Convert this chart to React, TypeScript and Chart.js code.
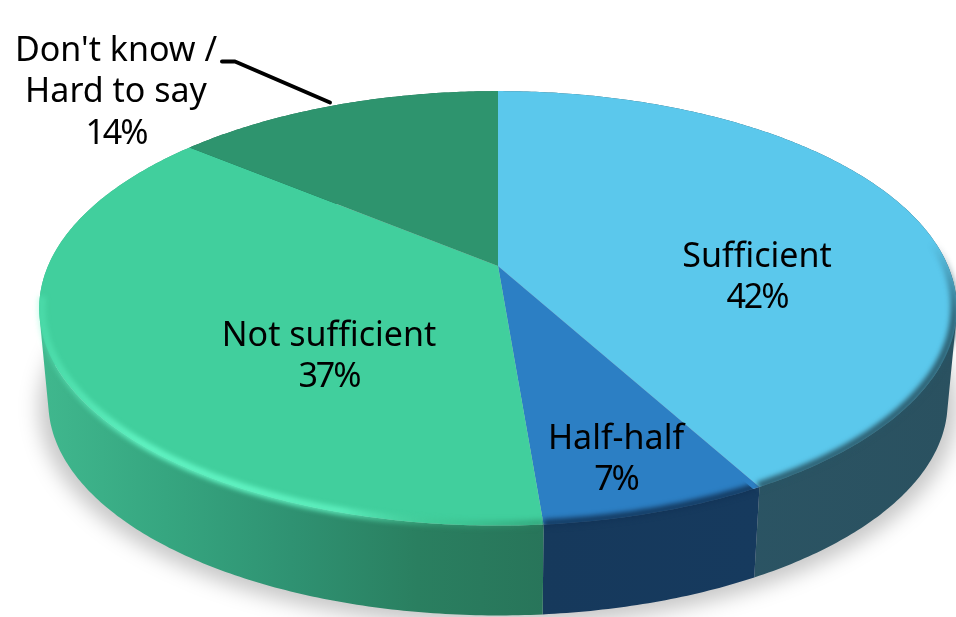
import React, { useEffect, useRef } from "react";
import { Chart, registerables } from "chart.js";

Chart.register(...registerables);

const categories = ["Sufficient", "Half-half", "Not sufficient", "Don't know /\nHard to say"];
const shares = [42, 6.7, 37.3, 14];
const faceColors = ["#5BC8EC", "#2C7FC4", "#41CF9D", "#2E946E"];
const wallColors = [
  ["#2C5767", "#2A5160"],
  ["#16395C", "#163A5E"],
  ["#40B88E", "#36A680", "#2F9272", "#2A7F60", "#28755A"],
  ["#1F6A50", "#1F6A50"],
];
const rimColors = [
  ["rgba(40,84,100,0)", "rgba(40,84,100,.4)", "rgba(40,84,100,.85)", "rgba(40,84,100,.9)"],
  ["rgba(18,52,88,.9)", "rgba(18,52,88,.9)"],
  ["rgba(98,245,196,.3)", "rgba(98,245,196,.95)", "rgba(98,245,196,.95)", "rgba(98,245,196,.8)", "rgba(60,190,140,.35)", "rgba(40,130,95,.5)"],
  null,
];
const rimStartY = [240, 200, 295, 0];
const labelAnchors = [
  [757, 257],
  [616, 439],
  [329, 336],
  [116, 51],
];
const FONT = '34px "Noto Sans"';
const LINE_GAP = 41.5;

// Projection of the pie's unit circle onto the tilted plane of the picture.
const CX = 498, CY = 266, A = 450, B = 209, P = 0.195;
const DEPTH = 95, BASE_SCALE = 0.98;

function project(angle: number, scale = 1, dy = 0): [number, number] {
  const u = Math.cos(angle) * scale;
  const v = Math.sin(angle) * scale;
  const w = 1 - P * Math.sin(angle);
  return [CX + (A * u) / w, CY + (B * v) / w + dy];
}

function samples(a0: number, a1: number, scale = 1, dy = 0) {
  const n = Math.max(2, Math.ceil(Math.abs(a1 - a0) * 90));
  const pts: [number, number][] = [];
  for (let i = 0; i <= n; i++) pts.push(project(a0 + ((a1 - a0) * i) / n, scale, dy));
  return pts;
}

function trace(ctx: CanvasRenderingContext2D, pts: [number, number][], close = true) {
  ctx.beginPath();
  pts.forEach(([x, y], i) => (i ? ctx.lineTo(x, y) : ctx.moveTo(x, y)));
  if (close) ctx.closePath();
}

function gradient(ctx: CanvasRenderingContext2D, x0: number, y0: number, x1: number, y1: number, stops: string[]) {
  const g = ctx.createLinearGradient(x0, y0, x1, y1);
  stops.forEach((c, i) => g.addColorStop(i / (stops.length - 1), c));
  return g;
}

const tiltedPie = {
  id: "tiltedPie",
  beforeDatasetDraw(chart: any) {
    const ctx: CanvasRenderingContext2D = chart.ctx;
    const arcs = chart.getDatasetMeta(0).data;

    // soft shadow below the body
    ctx.save();
    ctx.filter = "blur(10px)";
    ctx.fillStyle = "rgba(0,0,0,.22)";
    trace(ctx, samples(0, Math.PI * 2, 1, DEPTH + 5));
    ctx.fill();
    ctx.restore();

    // walls: swept quads so the silhouette joins top and base at the extremes
    arcs.forEach((arc: any, i: number) => {
      const top = samples(arc.startAngle, arc.endAngle);
      const base = samples(arc.startAngle, arc.endAngle, BASE_SCALE, DEPTH);
      const xs = top.concat(base).map((p) => p[0]);
      ctx.fillStyle = gradient(ctx, Math.min(...xs), 0, Math.max(...xs), 0, wallColors[i]);
      ctx.beginPath();
      for (let k = 0; k + 1 < top.length; k++) {
        const quad = [top[k], top[k + 1], base[k + 1], base[k]];
        const area = quad.reduce((s, p, q) => {
          const n = quad[(q + 1) % 4];
          return s + p[0] * n[1] - n[0] * p[1];
        }, 0);
        const ordered = area < 0 ? quad.slice().reverse() : quad;
        ordered.forEach(([x, y], q) => (q ? ctx.lineTo(x, y) : ctx.moveTo(x, y)));
        ctx.closePath();
      }
      ctx.fill();
    });

    // faces
    arcs.forEach((arc: any) => {
      trace(ctx, [[CX, CY], ...samples(arc.startAngle, arc.endAngle)]);
      ctx.fillStyle = arc.options.backgroundColor;
      ctx.fill();
    });

    // bevel on the front edge
    arcs.forEach((arc: any, i: number) => {
      const rim = rimColors[i];
      if (!rim) return;
      const pts = samples(arc.startAngle, arc.endAngle, 0.995).filter((p) => p[1] > rimStartY[i]);
      if (pts.length < 2) return;
      const xs = pts.map((p) => p[0]);
      const ys = pts.map((p) => p[1]);
      ctx.save();
      trace(ctx, [[CX, CY], ...samples(arc.startAngle, arc.endAngle, 1.03, 8)]);
      ctx.clip();
      ctx.filter = "blur(2.5px)";
      ctx.lineWidth = 8;
      ctx.lineCap = "butt";
      ctx.strokeStyle =
        i === 0
          ? gradient(ctx, 0, Math.min(...ys), 0, Math.min(...ys) + 110, rim)
          : gradient(ctx, Math.min(...xs), 0, Math.max(...xs), 0, rim);
      trace(ctx, pts, false);
      ctx.stroke();
      ctx.restore();
    });

    return false;
  },
  afterDatasetsDraw(chart: any) {
    const ctx: CanvasRenderingContext2D = chart.ctx;
    // leader line
    ctx.save();
    ctx.strokeStyle = "#000";
    ctx.lineWidth = 4;
    ctx.lineCap = "round";
    ctx.lineJoin = "round";
    ctx.beginPath();
    ctx.moveTo(222, 61.5);
    ctx.lineTo(235, 61.5);
    ctx.lineTo(330, 102.5);
    ctx.stroke();

    // labels
    ctx.fillStyle = "#000";
    ctx.font = FONT;
    ctx.textAlign = "center";
    ctx.textBaseline = "middle";
    chart.data.labels.forEach((label: string, i: number) => {
      const names = label.split("\n");
      const x = labelAnchors[i][0];
      const y = labelAnchors[i][1];
      (ctx as any).letterSpacing = "0px";
      names.forEach((t, j) => ctx.fillText(t, x, y + j * LINE_GAP));
      (ctx as any).letterSpacing = "-2px";
      ctx.fillText(`${Math.round(chart.data.datasets[0].data[i])}%`, x, y + names.length * LINE_GAP);
    });
    ctx.restore();
  },
};

export default function App() {
  const ref = useRef<HTMLCanvasElement>(null);
  useEffect(() => {
    const chart = new Chart(ref.current!, {
      type: "pie",
      data: {
        labels: categories,
        datasets: [{ data: shares, backgroundColor: faceColors, borderWidth: 0 }],
      },
      options: {
        animation: false,
        responsive: false,
        devicePixelRatio: 1,
        plugins: { legend: { display: false }, tooltip: { enabled: false } },
      },
      plugins: [tiltedPie],
    } as any);
    return () => chart.destroy();
  }, []);
  return (
    <canvas
      ref={ref}
      width={956}
      height={617}
      style={{ position: "absolute", left: 0, top: 0, width: 956, height: 617, display: "block" }}
    />
  );
}
